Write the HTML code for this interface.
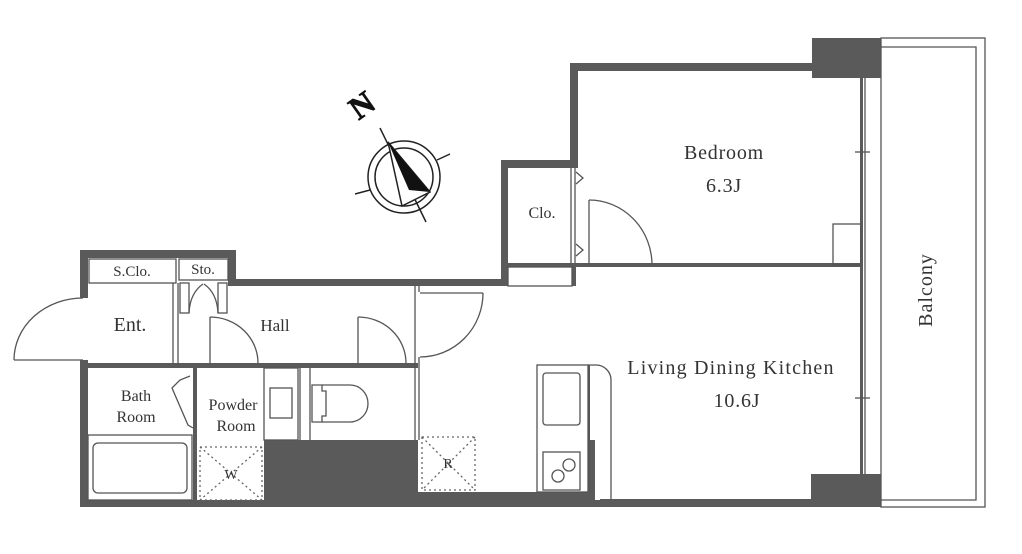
<!DOCTYPE html>
<html><head><meta charset="utf-8"><style>
html,body{margin:0;padding:0;background:#fff;}
svg{display:block;}
text{font-family:"Liberation Serif",serif;fill:#333;}
</style></head><body>
<svg width="1022" height="554" viewBox="0 0 1022 554" xmlns="http://www.w3.org/2000/svg">
<g fill="#5a5a5a" stroke="none">
<rect x="80" y="250" width="156" height="8"/>
<rect x="228" y="250" width="8" height="36"/>
<rect x="228" y="279" width="280" height="7"/>
<rect x="501" y="160" width="7" height="126"/>
<rect x="501" y="160" width="76" height="8"/>
<rect x="570" y="63" width="8" height="105"/>
<rect x="570" y="63" width="245" height="8"/>
<rect x="812" y="38" width="69" height="40"/>
<rect x="811" y="474" width="70" height="33"/>
<rect x="80" y="250" width="8" height="48"/>
<rect x="80" y="360" width="8" height="147"/>
<rect x="80" y="500" width="520" height="7"/>
<rect x="600" y="499" width="215" height="8"/>
<rect x="264" y="440" width="154" height="67"/>
<rect x="418" y="492" width="172" height="15"/>
<rect x="590" y="440" width="5" height="60"/>
<rect x="88" y="363" width="330" height="5"/>
<rect x="571" y="263" width="290" height="4"/>
<rect x="508" y="263" width="67" height="4"/>
<rect x="572" y="263" width="4" height="23"/>
<rect x="193" y="368" width="4" height="132"/>
<rect x="860" y="78" width="3" height="396"/>
</g>
<g fill="none" stroke="#555" stroke-width="1.3">
<rect x="89" y="259" width="87" height="24"/>
<rect x="179" y="259" width="49" height="21"/>
<rect x="508" y="267" width="64" height="19"/>
<line x1="173" y1="283" x2="173" y2="363"/><line x1="178" y1="283" x2="178" y2="363"/>
<line x1="415" y1="286" x2="415" y2="440"/><line x1="419" y1="286" x2="419" y2="292"/><line x1="419" y1="357" x2="419" y2="440"/>
<line x1="571" y1="168" x2="571" y2="263"/><line x1="575" y1="168" x2="575" y2="263"/>
<line x1="865" y1="78" x2="865" y2="474"/>
<line x1="855" y1="152" x2="870" y2="152"/><line x1="855" y1="398" x2="870" y2="398"/>
<rect x="833" y="224" width="28" height="41"/>
<rect x="881" y="38" width="104" height="469"/>
<polyline points="881,47 976,47 976,500 881,500"/>
<line x1="14" y1="360" x2="83" y2="360"/><path d="M14,360 A69,62 0 0 1 83,298"/>
<line x1="210" y1="317" x2="210" y2="363"/><path d="M210,317 A48,46 0 0 1 258,363"/>
<line x1="358" y1="317" x2="358" y2="363"/><path d="M358,317 A48,46 0 0 1 406,363"/>
<line x1="420" y1="293" x2="483" y2="293"/><path d="M483,293 A63,64 0 0 1 420,357"/>
<line x1="589" y1="200" x2="589" y2="265"/><path d="M589,200 A63,65 0 0 1 652,265"/>
<rect x="180" y="283" width="9" height="30"/><rect x="218" y="283" width="9" height="30"/>
<path d="M189,313 Q190,293 203,284"/><path d="M218,313 Q217,293 204,284"/>
<path d="M576,172 L583,178 L576,184"/><path d="M576,244 L583,250 L576,256"/>
<path d="M190,376 L180,380 L172,388 L188,425 L193,428"/>
<rect x="88" y="435" width="104" height="65"/>
<rect x="93" y="443" width="94" height="50" rx="5"/>
<rect x="264" y="368" width="34" height="72"/><rect x="270" y="388" width="22" height="30"/>
<line x1="300" y1="368" x2="300" y2="440"/><line x1="310" y1="368" x2="310" y2="440"/>
<path d="M312,385 L322,385 L322,391 L326,391 L326,416 L322,416 L322,422 L312,422 Z"/>
<path d="M322,385 L350,385 A18,18.5 0 0 1 350,422 L322,422"/>
<rect x="537" y="365" width="51" height="127"/>
<rect x="543" y="373" width="37" height="52" rx="3"/>
<rect x="543" y="452" width="37" height="38"/>
<circle cx="558" cy="476" r="6"/><circle cx="569" cy="465" r="6"/>
<path d="M588,365 L596,365 A15,15 0 0 1 611,380 L611,499"/>
<line x1="589" y1="365" x2="589" y2="492" stroke-width="2"/>
</g>
<g fill="none" stroke="#666" stroke-width="1.3" stroke-dasharray="2,3">
<rect x="200" y="447" width="62" height="53"/>
<line x1="200" y1="447" x2="262" y2="500"/><line x1="262" y1="447" x2="200" y2="500"/>
<rect x="422" y="437" width="53" height="53"/>
<line x1="422" y1="437" x2="475" y2="490"/><line x1="475" y1="437" x2="422" y2="490"/>
</g>
<g stroke="#222" fill="none" stroke-width="1.5">
<circle cx="404" cy="177" r="36"/><circle cx="404" cy="177" r="29"/>
<line x1="380" y1="128" x2="426" y2="222"/>
<line x1="355" y1="194" x2="370" y2="190"/><line x1="437" y1="160" x2="450" y2="154"/>
<path d="M388,142 L402,206 L430,192 Z" fill="#fff"/>
</g>
<path d="M388,142 L430,192 L409,190 Z" fill="#111"/>
<text x="368" y="114" font-size="32" font-weight="bold" transform="rotate(-35 368 114)" text-anchor="middle" style="fill:#111;stroke:#111;stroke-width:0.8">N</text>
<g font-size="16">
<text x="132" y="276" text-anchor="middle" font-size="15">S.Clo.</text>
<text x="203" y="274" text-anchor="middle" font-size="15">Sto.</text>
<text x="130" y="331" text-anchor="middle" font-size="20">Ent.</text>
<text x="275" y="331" text-anchor="middle" font-size="17">Hall</text>
<text x="136" y="401" text-anchor="middle" font-size="16">Bath</text>
<text x="136" y="422" text-anchor="middle" font-size="16">Room</text>
<text x="233" y="410" text-anchor="middle" font-size="16">Powder</text>
<text x="236" y="431" text-anchor="middle" font-size="16">Room</text>
<text x="231" y="479" text-anchor="middle" font-size="14">W</text>
<text x="448" y="468" text-anchor="middle" font-size="14">R</text>
<text x="542" y="218" text-anchor="middle" font-size="16">Clo.</text>
<text x="724" y="159" text-anchor="middle" font-size="20" letter-spacing="0.8">Bedroom</text>
<text x="724" y="192" text-anchor="middle" font-size="20" letter-spacing="0.8">6.3J</text>
<text x="731" y="374" text-anchor="middle" font-size="20" letter-spacing="1.2">Living Dining Kitchen</text>
<text x="737" y="407" text-anchor="middle" font-size="20" letter-spacing="0.8">10.6J</text>
<text x="932" y="290" text-anchor="middle" font-size="20" letter-spacing="1" transform="rotate(-90 932 290)">Balcony</text>
</g>
</svg>
</body></html>
